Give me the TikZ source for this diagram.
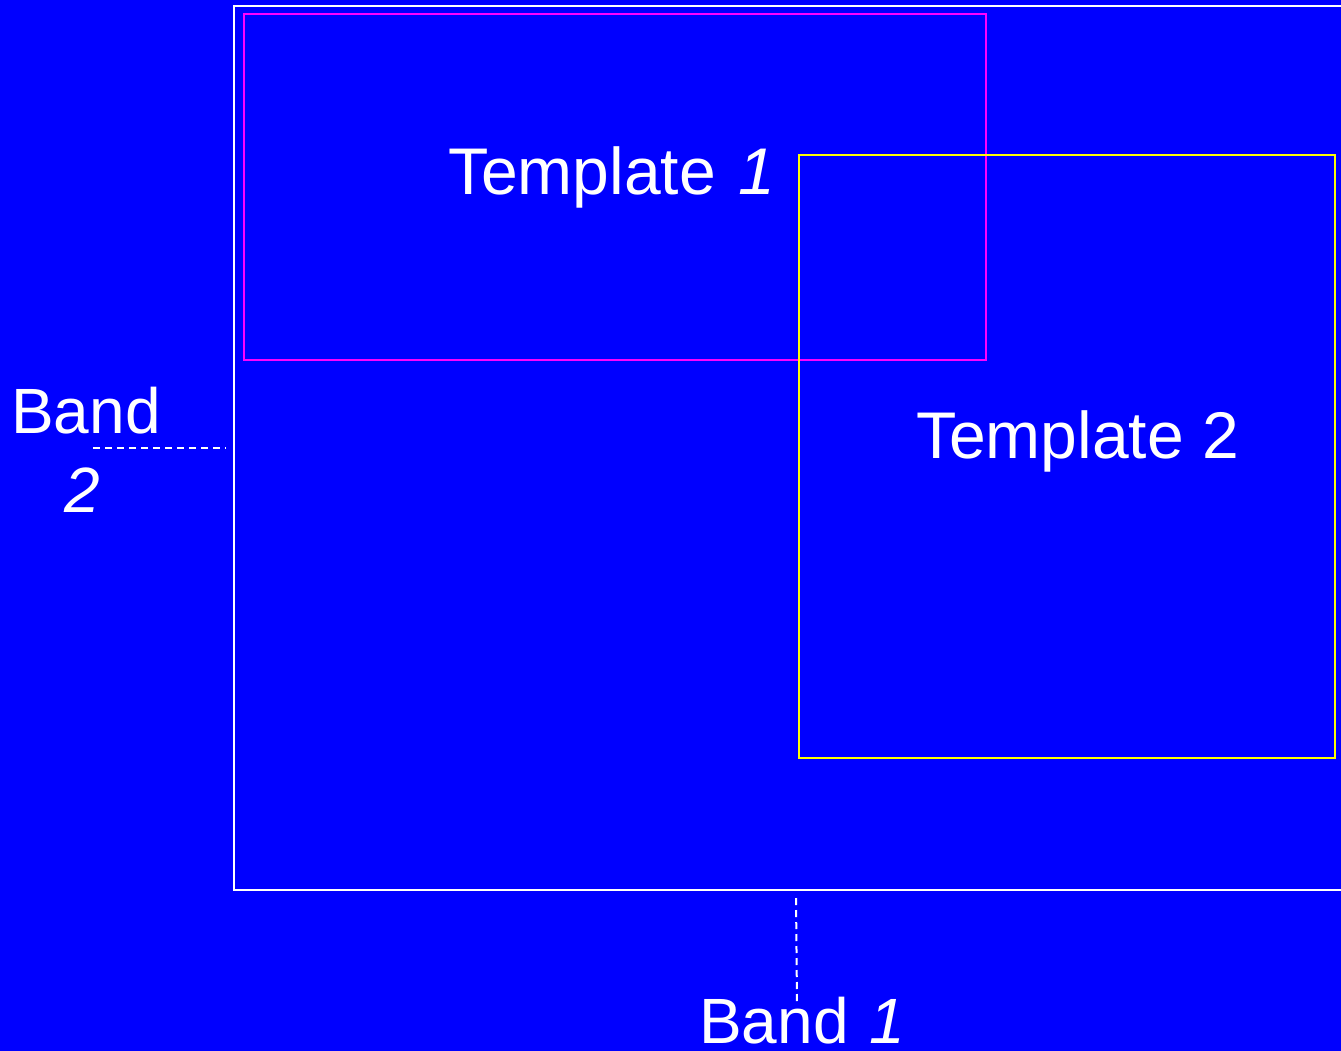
\documentclass[tikz,border=0pt]{standalone}
\usepackage{fontspec}
\setmainfont{Liberation Sans}
\definecolor{bg}{RGB}{0,0,255}
\definecolor{mag}{RGB}{255,0,255}
\definecolor{yel}{RGB}{255,255,0}
\begin{document}
\begin{tikzpicture}[x=1pt,y=-1pt,
  lbl/.style={text=white,font=\fontsize{64}{64}\selectfont,inner sep=0pt,anchor=base west},
  biglbl/.style={lbl,font=\fontsize{66}{66}\selectfont},
  frame/.style={line width=2pt},
  guide/.style={draw=white,line width=2pt,dash pattern=on 7pt off 5pt}]
\fill[bg] (0,0) rectangle (1341,1051);
\useasboundingbox (0,0) rectangle (1341,1051);
\draw[frame,white] (234,6) rectangle (1350,890);
\draw[frame,mag] (244,14) rectangle (986,360);
\draw[frame,yel] (799,155) rectangle (1335,758);
\node[biglbl] (t1) at (448,195) {Template\hspace{22pt}\textit{1}};
\node[biglbl] (t2) at (916,458) {Template 2};
\node[lbl] (b2a) at (11,433) {Band};
\node[lbl] (b2b) at (64,512) {\textit{2}};
\node[lbl] (b1) at (699,1043) {Band\hspace{21pt}\textit{1}};
\coordinate (h1) at (93,448);
\coordinate (h2) at (226,448);
\coordinate (v1) at (796,898);
\coordinate (v2) at (797,1003);
\draw[guide] (h1) -- (h2);
\draw[guide] (v1) -- (v2);
\end{tikzpicture}
\end{document}
